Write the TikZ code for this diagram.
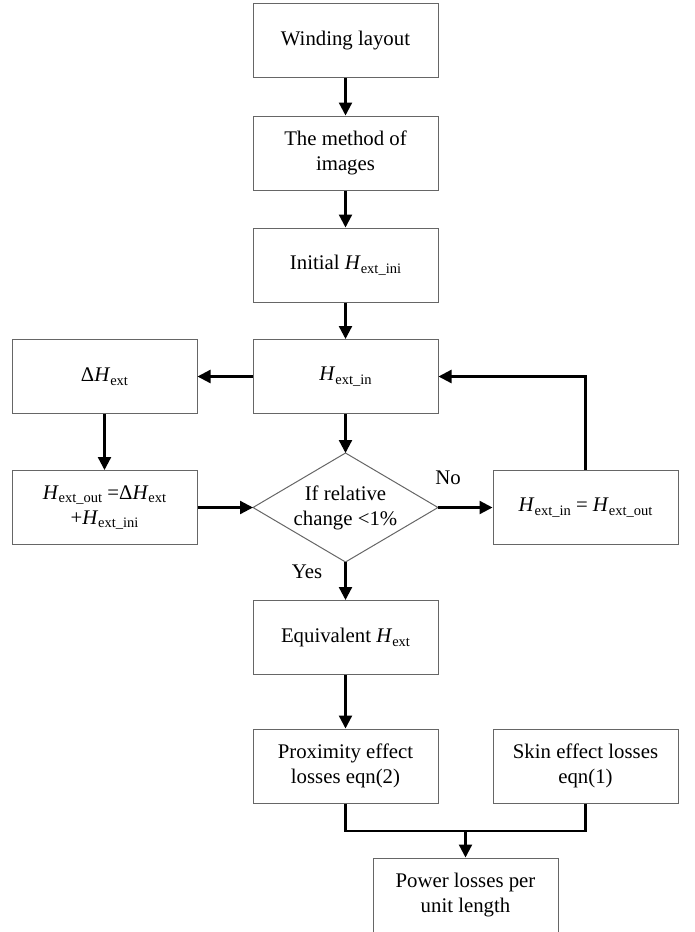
\documentclass[tikz,border=0pt]{standalone}
\usepackage{fontspec}
\setmainfont{Liberation Serif}
\usetikzlibrary{arrows.meta}
\newcommand\HH[1]{\textit{H}\raisebox{-0.4ex}{\fontsize{14.5}{15}\selectfont #1}}
\begin{document}
\begin{tikzpicture}[x=1pt,y=-1pt,font=\fontsize{20.8}{25}\selectfont,
  box/.style={draw=black!60,line width=1pt,minimum width=185pt,minimum height=74pt,inner sep=0pt,align=center},
  boxline/.style={draw=black!60,line width=1pt},
  arr/.style={-{Triangle[width=13pt,length=13pt]},line width=2.3pt},
  conn/.style={line width=2.3pt}]
\clip (0,0) rectangle (695,932);
\node[box] (wind) at (345.5,40.5) {Winding layout};
\node[box] (meth) at (345.5,153) {The method of\\images};
\node[box] (init) at (345.5,265) {Initial \HH{ext\_ini}};
\node[box] (hin) at (345.5,376.5) {\HH{ext\_in}};
\node[box] (dh) at (104.5,376.5) {Δ\HH{ext}};
\node[box] (hout) at (104.5,507.5) {\HH{ext\_out} =Δ\HH{ext}\\+\HH{ext\_ini}};
\node[box] (upd) at (585.5,507.5) {\HH{ext\_in} = \HH{ext\_out}};
\coordinate (dT) at (345.5,453);
\coordinate (dL) at (253,507.5);
\coordinate (dR) at (438,507.5);
\coordinate (dB) at (345.5,562);
\draw[boxline] (dT) -- (dR) -- (dB) -- (dL) -- cycle;
\node[align=center,inner sep=0pt] (dec) at (345.5,508) {If relative\\change <1\%};
\node[box] (equ) at (345.5,637.5) {Equivalent \HH{ext}};
\node[box] (prox) at (345.5,766) {Proximity effect\\losses eqn(2)};
\node[box] (skin) at (585.5,766) {Skin effect losses\\eqn(1)};
\node[box] (pow) at (465.5,895) {Power losses per\\unit length};
\node (no) at (448,478) {No};
\node (yes) at (307,572) {Yes};
\coordinate (mj) at (465.5,831);
\draw[arr] (wind) -- (meth);
\draw[arr] (meth) -- (init);
\draw[arr] (init) -- (hin);
\draw[arr] (hin) -- (dh);
\draw[arr] (dh) -- (hout);
\draw[arr] (hout.east) -- (dL);
\draw[arr] (dR) -- (upd.west);
\draw[arr] (upd.north) |- (hin.east);
\draw[arr] (hin) -- (dT);
\draw[arr] (dB) -- (equ);
\draw[arr] (equ) -- (prox);
\draw[conn] (prox.south) |- (mj);
\draw[conn] (skin.south) |- (mj);
\draw[arr] (mj) -- (pow.north);
\end{tikzpicture}
\end{document}
